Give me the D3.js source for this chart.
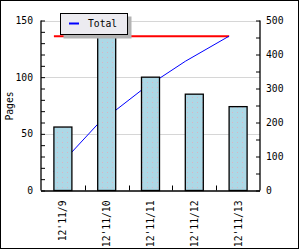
<!DOCTYPE html>
<html><head><meta charset="utf-8">
<script src="https://cdn.jsdelivr.net/npm/d3@7"></script>
<style>
html,body{margin:0;padding:0;background:#fff;}
text{font-family:"DejaVu Sans Mono",monospace;font-size:9.7px;fill:#000;}
</style></head>
<body>
<svg id="c" width="300" height="250"></svg>
<script>
const categories = ["12'11/9","12'11/10","12'11/11","12'11/12","12'11/13"];
const pages = [56, 139, 100, 85, 74];
const leftTicks = [0, 50, 100, 150];
const rightTicks = [0, 100, 200, 300, 400, 500];
const seriesName = "Total";

const cumulative = [];
pages.reduce((a, v, i) => (cumulative[i] = a + v), 0);
const total = cumulative[cumulative.length - 1];

const svg = d3.select("#c");
const L = 41, R = 260, T = 20.5, B = 190.5;

svg.append("rect").attr("x",0.5).attr("y",0.5).attr("width",298).attr("height",248)
  .attr("fill","#fff").attr("stroke","#000");

const defs = svg.append("defs");
const pat = defs.append("pattern").attr("id","dots").attr("patternUnits","userSpaceOnUse")
  .attr("width",5).attr("height",5);
pat.append("rect").attr("width",5).attr("height",5).attr("fill","#add8e6");
pat.append("rect").attr("x",2).attr("y",2).attr("width",1).attr("height",1).attr("fill","#d9b4c4");

const x = d3.scaleBand().domain(categories).range([L, R]).paddingInner(0).paddingOuter(0);
const yL = d3.scaleLinear().domain([0,150]).range([B, T]);
const yR = d3.scaleLinear().domain([0,500]).range([B, T]);
const barW = 18;
const barX = c => x(c) + (x.bandwidth() - barW) / 2;

// gridlines
svg.append("g").selectAll("line").data(leftTicks.filter(d => d > 0)).join("line")
  .attr("x1", L).attr("x2", R).attr("y1", d => Math.round(yL(d)) + 0.5).attr("y2", d => Math.round(yL(d)) + 0.5)
  .attr("stroke","#d6d6d6").attr("stroke-width",1);

// total line (red)
svg.append("line")
  .attr("x1", barX(categories[0])).attr("x2", barX(categories[categories.length-1]))
  .attr("y1", yR(total)).attr("y2", yR(total))
  .attr("stroke","#ff0000").attr("stroke-width",2);

// cumulative line (blue)
svg.append("path").datum(cumulative)
  .attr("d", d3.line().x((d,i) => barX(categories[i])).y(d => yR(d)))
  .attr("fill","none").attr("stroke","#0000ff").attr("stroke-width",1);

// bars
svg.append("g").selectAll("rect").data(pages).join("rect")
  .attr("x", (d,i) => barX(categories[i])).attr("width", barW)
  .attr("y", d => yL(d)).attr("height", d => B - yL(d))
  .attr("fill","url(#dots)").attr("stroke","#000").attr("stroke-width",1.3);

// left axis
const gl = svg.append("g").attr("transform",`translate(${L},0)`)
  .call(d3.axisLeft(yL).tickValues(d3.range(0,151,10)).tickSize(-4).tickPadding(8)
    .tickFormat(d => leftTicks.includes(d) ? d : ""));
// right axis
const gr = svg.append("g").attr("transform",`translate(${R},0)`)
  .call(d3.axisRight(yR).tickValues(d3.range(0,501,50)).tickSize(-4).tickPadding(6)
    .tickFormat(d => rightTicks.includes(d) ? d : ""));
// bottom axis
const gb = svg.append("g").attr("transform",`translate(0,${B})`)
  .call(d3.axisBottom(x).tickSize(0).tickPadding(0).tickFormat(""));
gb.selectAll(".tick").remove();
gb.append("g").selectAll("line").data(categories.slice(1)).join("line")
  .attr("x1", d => Math.round(x(d)) + 0.5).attr("x2", d => Math.round(x(d)) + 0.5)
  .attr("y1", 0).attr("y2", -5).attr("stroke","#000");
gb.append("g").selectAll("text").data(categories).join("text")
  .attr("transform", d => `translate(${x(d) + x.bandwidth()/2},10) rotate(-90)`)
  .attr("text-anchor","end").attr("dy","0.35em").text(d => d);

[gl, gr, gb].forEach(g => {
  g.selectAll(".domain").attr("stroke","#000").attr("stroke-width",1.3);
  g.selectAll(".tick line").attr("stroke","#000");
  g.selectAll("text").attr("font-family",null).attr("font-size",null).attr("fill","#000");
});
gb.select(".domain").attr("d", `M${L},0.5H${R}`);
gl.select(".domain").attr("d", `M0,${T}V${B}`);
gr.select(".domain").attr("d", `M0,${T}V${B}`);

// y title
svg.append("text").attr("transform","translate(10,106) rotate(-90)")
  .attr("text-anchor","middle").attr("dy","0.35em").text("Pages");

// legend
const lg = svg.append("g");
lg.append("rect").attr("x",63.5).attr("y",16.5).attr("width",68).attr("height",22).attr("fill","#b4b4b4");
lg.append("rect").attr("x",60.5).attr("y",13.5).attr("width",67).attr("height",21)
  .attr("fill","#ecebf0").attr("stroke","#000");
lg.append("line").attr("x1",69).attr("x2",79).attr("y1",23.5).attr("y2",23.5)
  .attr("stroke","#0000ff").attr("stroke-width",2);
lg.append("text").attr("x",88).attr("y",24).attr("dy","0.35em").text(seriesName);
</script>
</body></html>
